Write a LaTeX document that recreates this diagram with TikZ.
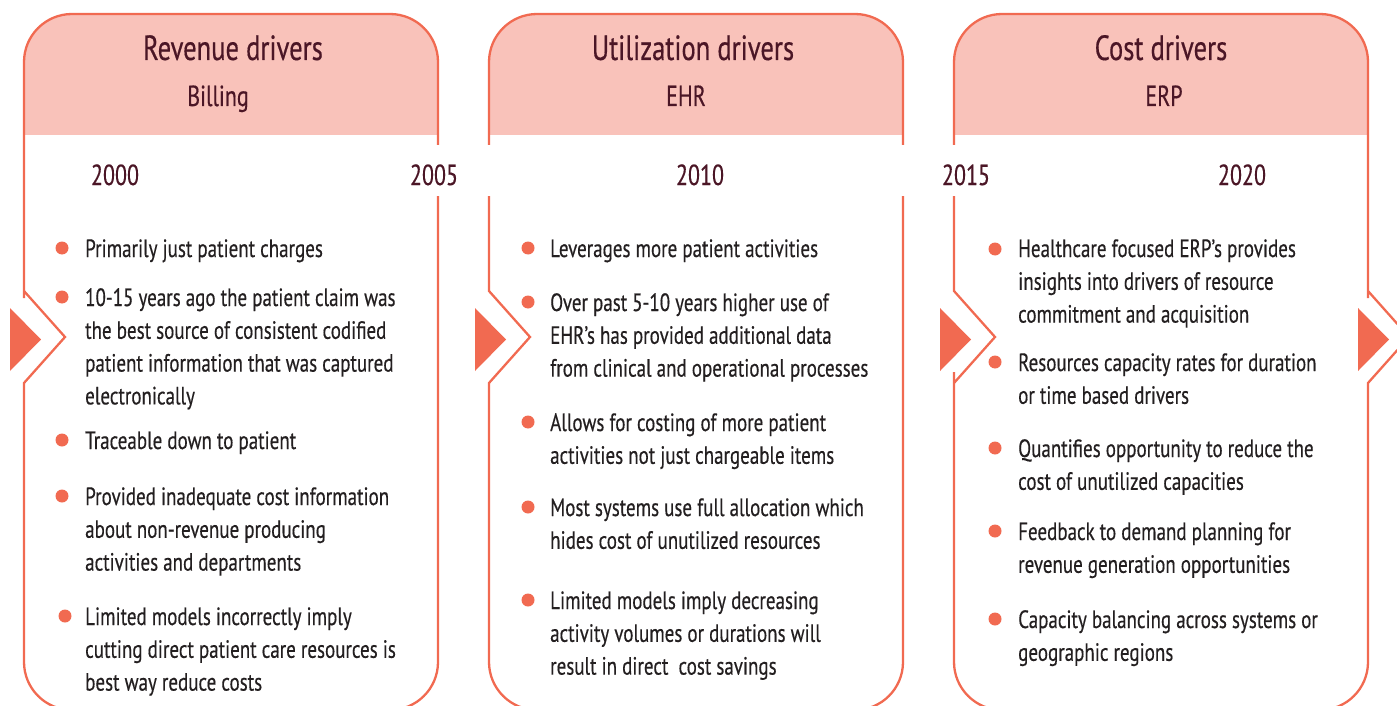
\documentclass[tikz,border=0pt]{standalone}
\usepackage{fontspec}
\setmainfont{PT Sans}[FakeStretch=0.76,FakeBold=0.4]
\definecolor{edgecol}{RGB}{241,106,81}
\definecolor{headcol}{RGB}{249,194,186}
\definecolor{titlecol}{RGB}{75,22,38}
\definecolor{bodycol}{RGB}{35,31,32}
\newcommand{\itemtext}[1]{\parbox[t]{360pt}{#1}}
\begin{document}
\begin{tikzpicture}[x=1pt,y=-1pt,
  edge/.style={draw=edgecol, line width=2.3pt, line join=miter},
  headfill/.style={fill=headcol},
  marker/.style={fill=edgecol},
  titletext/.style={anchor=base, inner sep=0pt, text=titlecol, font=\fontsize{35}{40}\selectfont},
  subtext/.style={anchor=base, inner sep=0pt, text=titlecol, font=\fontsize{29}{34}\selectfont},
  yeartext/.style={anchor=base, inner sep=0pt, text=titlecol, font=\fontsize{29}{34}\selectfont},
  itemnode/.style={anchor=base west, inner sep=0pt, text=bodycol, font=\fontsize{25}{32.8}\selectfont}]
\useasboundingbox (0,0) rectangle (1397,706);
\clip (0,0) rectangle (1397,706);

% header bands
\foreach \l/\r in {24/438, 489/903, 954/1368}{
  \begin{scope}
    \clip (\l,0) rectangle (\r,135);
    \fill[headfill, rounded corners=48pt] (\l,14) rectangle (\r,710);
  \end{scope}
}

% panel outlines with chevron notches and gaps for the year labels
\draw[edge] (438,145) [rounded corners=48pt] -- (438,14) -- (24,14) -- (24,250)
  [sharp corners] -- (24,291) -- (65,337) -- (24,383) -- (24,420)
  [rounded corners=48pt] -- (24,710) -- (438,710) -- (438,196);

\draw[edge, rounded corners=48pt] (489,145) -- (489,14) -- (903,14) -- (903,145);
\draw[edge] (489,196) -- (489,291) -- (530,337) -- (489,383) -- (489,420)
  [rounded corners=48pt] -- (489,710) -- (903,710) -- (903,196);

\draw[edge] (954,145) [rounded corners=48pt] -- (954,14) -- (1368,14) -- (1368,250)
  [sharp corners] -- (1368,291) -- (1409,337) -- (1368,383) -- (1368,420)
  [rounded corners=48pt] -- (1368,710) -- (954,710) -- (954,420)
  [sharp corners] -- (954,383) -- (995,337) -- (954,291) -- (954,196);

% arrow heads
\fill[marker] (10,308) -- (10,371) -- (41,339.5) -- cycle;
\fill[marker] (475,308) -- (475,371) -- (506,339.5) -- cycle;
\fill[marker] (940,308) -- (940,371) -- (971,339.5) -- cycle;
\fill[marker] (1358,308) -- (1358,371) -- (1389,339.5) -- cycle;

% headings
\node[titletext] (t1) at (233,60) {Revenue drivers};
\node[subtext] (s1) at (218,106) {Billing};
\node[titletext] (t2) at (693,60) {Utilization drivers};
\node[subtext] (s2) at (686,106) {EHR};
\node[titletext] (t3) at (1161,60) {Cost drivers};
\node[subtext] (s3) at (1164,106) {ERP};

% years
\node[yeartext] (y2000) at (115,185) {2000};
\node[yeartext] (y2005) at (434,185) {2005};
\node[yeartext] (y2010) at (700,185) {2010};
\node[yeartext] (y2015) at (966,185) {2015};
\node[yeartext] (y2020) at (1242,185) {2020};

% bullets, first panel
\foreach \x/\y in {62/248, 62/297, 62/440, 62/496, 65/616}
  \fill[marker] (\x,\y) circle (6.5pt);
\node[itemnode] (a1) at (85,257) {\itemtext{Primarily just patient charges}};
\node[itemnode] (a2) at (85,306) {\itemtext{10-15 years ago the patient claim was\\the best source of consistent codified\\patient information that was captured\\electronically}};
\node[itemnode] (a3) at (85,449) {\itemtext{Traceable down to patient}};
\node[itemnode] (a4) at (85,505) {\itemtext{Provided inadequate cost information\\about non-revenue producing\\activities and departments}};
\node[itemnode] (a5) at (85,625) {\itemtext{Limited models incorrectly imply\\cutting direct patient care resources is\\best way reduce costs}};

% bullets, second panel
\foreach \y in {248, 302, 422, 507, 600}
  \fill[marker] (528,\y) circle (6.5pt);
\node[itemnode] (b1) at (550,257) {\itemtext{Leverages more patient activities}};
\node[itemnode] (b2) at (550,311) {\itemtext{Over past 5-10 years higher use of\\EHR’s has provided additional data\\from clinical and operational processes}};
\node[itemnode] (b3) at (550,431) {\itemtext{Allows for costing of more patient\\activities not just chargeable items}};
\node[itemnode] (b4) at (550,516) {\itemtext{Most systems use full allocation which\\hides cost of unutilized resources}};
\node[itemnode] (b5) at (550,609) {\itemtext{Limited models imply decreasing\\activity volumes or durations will\\result in direct \ cost savings}};

% bullets, third panel
\foreach \y in {249, 362, 448, 531, 619}
  \fill[marker] (995,\y) circle (6.5pt);
\node[itemnode] (c1) at (1018,257) {\itemtext{Healthcare focused ERP’s provides\\insights into drivers of resource\\commitment and acquisition}};
\node[itemnode] (c2) at (1018,371) {\itemtext{Resources capacity rates for duration\\or time based drivers}};
\node[itemnode] (c3) at (1018,457) {\itemtext{Quantifies opportunity to reduce the\\cost of unutilized capacities}};
\node[itemnode] (c4) at (1018,540) {\itemtext{Feedback to demand planning for\\revenue generation opportunities}};
\node[itemnode] (c5) at (1018,628) {\itemtext{Capacity balancing across systems or\\geographic regions}};
\end{tikzpicture}
\end{document}
